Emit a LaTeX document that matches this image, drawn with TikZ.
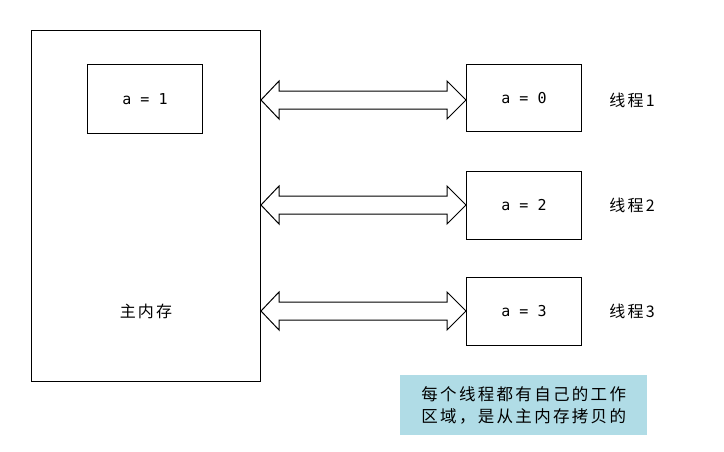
\documentclass[tikz,border=0pt]{standalone}
\usepackage{fontspec}
\newfontfamily\cjk[LetterSpace=14]{Noto Sans CJK SC}
\newfontfamily\cjkmono{DejaVu Sans Mono}
\usetikzlibrary{calc}
\definecolor{notebg}{HTML}{B0DCE6}
\tikzset{
  box/.style={draw, line width=1pt, inner sep=0pt, anchor=north west},
  valtxt/.style={font=\cjkmono\fontsize{15}{18}\selectfont},
  cjktxt/.style={font=\cjk\fontsize{16}{19}\selectfont},
  dblarrow/.style={draw, line width=1pt, fill=white, line join=miter},
}
\begin{document}
\begin{tikzpicture}[x=1pt, y=-1pt]
\useasboundingbox (0,0) rectangle (724,451);
% main memory
\node[box, minimum width=229pt, minimum height=351pt] (mem) at (31,30) {};
\node[box, minimum width=115pt, minimum height=69pt, valtxt] (m1) at (87,64) {};
\node[valtxt] at (m1.center) {a = 1};
\node[cjktxt] (memlbl) at (146,311) {主内存};
% thread boxes
\node[box, minimum width=115pt, minimum height=67pt] (t1) at (466,64) {};
\node[valtxt] at (t1.center) {a = 0};
\node[box, minimum width=115pt, minimum height=68pt] (t2) at (466,171) {};
\node[valtxt] at (t2.center) {a = 2};
\node[box, minimum width=115pt, minimum height=68pt] (t3) at (466,277) {};
\node[valtxt] at (t3.center) {a = 3};
\node[cjktxt] (l1) at (632,100) {线程1};
\node[cjktxt] (l2) at (632,205) {线程2};
\node[cjktxt] (l3) at (632,311) {线程3};
% arrows
\foreach \y/\t in {100/t1,205/t2,311/t3}{
  \coordinate (L) at (mem.east |- 0,\y);
  \coordinate (R) at (\t.west |- 0,\y);
  \draw[dblarrow] (L) -- ($(L)+(18,-19)$) -- ($(L)+(18,-9)$) -- ($(R)+(-19,-9)$)
    -- ($(R)+(-19,-19)$) -- (R) -- ($(R)+(-19,19)$) -- ($(R)+(-19,9)$)
    -- ($(L)+(18,9)$) -- ($(L)+(18,19)$) -- cycle;
}
% note
\node[fill=notebg, anchor=north west, minimum width=247pt, minimum height=60pt, inner sep=0pt] (note) at (400,375) {};
\node[cjktxt, font=\cjk\fontsize{16.5}{22}\selectfont, align=center] at (note.center) {每个线程都有自己的工作\\区域，是从主内存拷贝的};
\end{tikzpicture}
\end{document}
